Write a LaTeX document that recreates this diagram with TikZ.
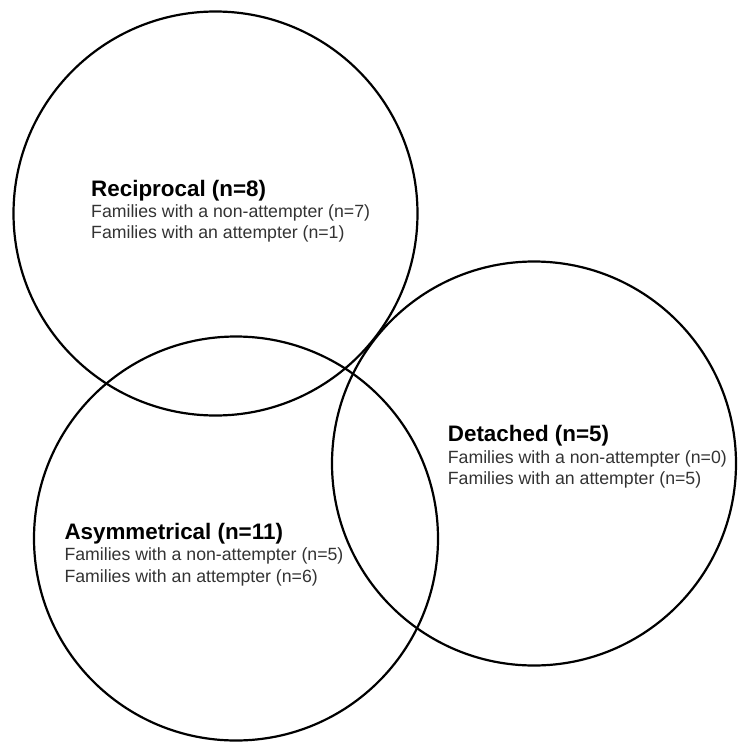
\documentclass[tikz,border=0pt]{standalone}
\usepackage{fontspec}
\setmainfont{Liberation Sans}
\definecolor{bodygray}{HTML}{333333}
\begin{document}
\begin{tikzpicture}[x=1pt,y=-1pt,
  vcircle/.style={circle,draw=black,line width=2.2pt,minimum size=404pt,inner sep=0pt},
  ttl/.style={anchor=base west,inner sep=0pt,font=\fontsize{22.4}{25}\selectfont\bfseries,text=black},
  body/.style={anchor=base west,inner sep=0pt,font=\fontsize{17.7}{20}\selectfont,text=bodygray}]
\useasboundingbox[fill=white] (0,0) rectangle (750,750);
\node[vcircle] (rec) at (215.5,213.5) {};
\node[vcircle] (asy) at (236,538.5) {};
\node[vcircle] (det) at (534,463.5) {};
% Reciprocal
\node[ttl] (recT) at (91,196.7) {Reciprocal (n=8)};
\node[body] (recA) at (91,217.7) {Families with a non-attempter (n=7)};
\node[body] (recB) at (91,238.5) {Families with an attempter (n=1)};
% Detached
\node[ttl] (detT) at (447.7,441) {Detached (n=5)};
\node[body] (detA) at (447.7,463.3) {Families with a non-attempter (n=0)};
\node[body] (detB) at (447.7,484.3) {Families with an attempter (n=5)};
% Asymmetrical
\node[ttl] (asyT) at (64.3,539.3) {Asymmetrical (n=11)};
\node[body] (asyA) at (64.3,560.7) {Families with a non-attempter (n=5)};
\node[body] (asyB) at (64.3,582.3) {Families with an attempter (n=6)};
\end{tikzpicture}
\end{document}
